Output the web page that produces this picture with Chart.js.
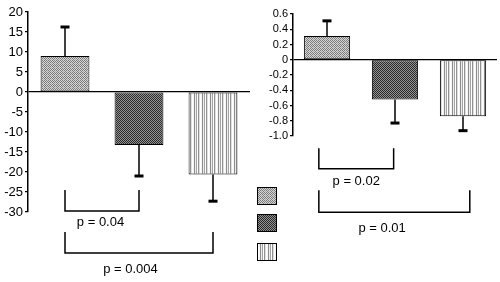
<!DOCTYPE html>
<html>
<head>
<meta charset="utf-8">
<script src="https://cdn.jsdelivr.net/npm/chart.js@4"></script>
<style>
  html, body { margin: 0; padding: 0; background: #fff; }
  #wrap { position: relative; width: 500px; height: 282px; overflow: hidden; }
  #wrap canvas { position: absolute; top: 0; }
  #leftChart { left: 0; }
  #rightChart { left: 250px; }
</style>
</head>
<body>
<div id="wrap">
  <canvas id="leftChart" width="252" height="282"></canvas>
  <canvas id="rightChart" width="250" height="282"></canvas>
</div>
<script>
// Three treatment groups (no axis labels shown in the figure)
const groups = ['Group 1', 'Group 2', 'Group 3'];

// Left panel: mean change and one-sided error
const leftMeans = [9, -13.25, -20.6];
const leftErrors = [7.25, 7.75, 6.7];
const leftTicks = { min: -30, max: 20, step: 5 };
const leftPValues = ['p = 0.04', 'p = 0.004'];

// Right panel
const rightMeans = [0.31, -0.52, -0.74];
const rightErrors = [0.2, 0.31, 0.19];
const rightTicks = { min: -1.0, max: 0.6, step: 0.2 };
const rightPValues = ['p = 0.02', 'p = 0.01'];

// Fill patterns that mimic the printed hatching
function makePattern(kind) {
    const c = document.createElement('canvas');
    const g = c.getContext('2d');
    if (kind === 'light') {
        c.width = 4; c.height = 4;
        g.fillStyle = '#d4d4d4'; g.fillRect(0, 0, 4, 4);
        g.fillStyle = '#7c7c7c';
        [[0,0],[2,0],[1,1],[3,1],[0,2],[2,2],[1,3]].forEach(([x, y]) => g.fillRect(x, y, 1, 1));
        g.fillStyle = '#a8a8a8'; g.fillRect(3, 3, 1, 1);
    } else if (kind === 'dark') {
        c.width = 2; c.height = 2;
        g.fillStyle = '#929292'; g.fillRect(0, 0, 2, 2);
        g.fillStyle = '#2a2a2a'; g.fillRect(0, 0, 1, 1); g.fillRect(1, 1, 1, 1);
    } else {
        c.width = 8; c.height = 1;
        ['#ffffff', '#f4f4f4', '#8c8c8c', '#ececec', '#a4a4a4', '#ffffff', '#909090', '#e0e0e0']
            .forEach((col, i) => { g.fillStyle = col; g.fillRect(i, 0, 1, 1); });
    }
    return g.createPattern(c, 'repeat');
}
const fills = [makePattern('light'), makePattern('dark'), makePattern('stripes')];

function catPx(scale, v) {
    const a = scale.getPixelForValue(0), b = scale.getPixelForValue(1);
    return a + (b - a) * v;
}

// Error bars, significance brackets and legend swatches
const overlay = {
    id: 'overlay',
    afterDatasetsDraw(chart, args, opts) {
        const { ctx, scales: { x, y } } = chart;
        const meta = chart.getDatasetMeta(0);
        const vals = chart.data.datasets[0].data;
        ctx.save();
        ctx.strokeStyle = '#000';
        ctx.fillStyle = '#000';

        meta.data.forEach((bar, i) => {
            const v = vals[i];
            const end = v + Math.sign(v) * opts.errors[i];
            const y0 = y.getPixelForValue(v), y1 = y.getPixelForValue(end);
            ctx.lineWidth = 1.5;
            ctx.beginPath(); ctx.moveTo(bar.x, y0); ctx.lineTo(bar.x, y1); ctx.stroke();
            ctx.fillRect(bar.x - 4.5, y1 - 1.5, 9, 3);
        });

        ctx.font = opts.font;
        ctx.textAlign = 'center';
        ctx.textBaseline = 'middle';
        opts.brackets.forEach((b, i) => {
            const xa = catPx(x, b.from), xb = catPx(x, b.to);
            const yt = y.getPixelForValue(b.top), yb = y.getPixelForValue(b.bottom);
            ctx.lineWidth = 1.5;
            ctx.beginPath();
            ctx.moveTo(xa, yt); ctx.lineTo(xa, yb); ctx.lineTo(xb, yb); ctx.lineTo(xb, yt);
            ctx.stroke();
            ctx.fillText(opts.labels[i], catPx(x, b.textAt), y.getPixelForValue(b.textY));
        });

        if (opts.legend) {
            const lx = chart.chartArea.left + opts.legend.dx;
            opts.legend.dy.forEach((dy, i) => {
                const ly = chart.chartArea.bottom + dy;
                ctx.fillStyle = fills[i];
                ctx.fillRect(lx, ly, 20, 18);
                ctx.lineWidth = 1;
                ctx.strokeRect(lx + 0.5, ly + 0.5, 19, 17);
            });
        }
        ctx.restore();
    }
};

function buildChart(id, means, errors, ticks, fontSize, axisWidth, padding, barPct, fmt, overlayOpts) {
    return new Chart(document.getElementById(id), {
        type: 'bar',
        data: {
            labels: groups,
            datasets: [{
                data: means,
                backgroundColor: fills,
                borderColor: '#000',
                borderWidth: 1,
                borderSkipped: false,
                barPercentage: barPct,
                categoryPercentage: 1
            }]
        },
        options: {
            responsive: false,
            animation: false,
            layout: { padding },
            plugins: {
                legend: { display: false },
                tooltip: { enabled: false },
                overlay: overlayOpts
            },
            scales: {
                x: { display: false },
                y: {
                    min: ticks.min,
                    max: ticks.max,
                    afterFit(axis) { axis.width = axisWidth; },
                    border: { display: true, color: '#000', width: 1.5 },
                    grid: {
                        color: c => Math.abs(c.tick.value) < 1e-9 ? '#000' : 'rgba(0,0,0,0)',
                        lineWidth: 1.2,
                        tickColor: '#000',
                        tickLength: 3,
                        drawOnChartArea: true
                    },
                    ticks: {
                        stepSize: ticks.step,
                        autoSkip: false,
                        padding: 2,
                        color: '#000',
                        font: { family: '"Liberation Sans", Arial, sans-serif', size: fontSize },
                        callback: fmt
                    }
                }
            }
        },
        plugins: [overlay]
    });
}

buildChart('leftChart', leftMeans, leftErrors, leftTicks, 13, 28,
    { left: 0, right: 2, top: 12, bottom: 70 }, 0.66,
    v => String(Math.round(v)),
    {
        errors: leftErrors,
        labels: leftPValues,
        font: '13px "Liberation Sans", Arial, sans-serif',
        brackets: [
            { from: 0, to: 1, top: -24.5, bottom: -29.75, textAt: 0.48, textY: -32.7 },
            { from: 0, to: 2, top: -35, bottom: -40.25, textAt: 0.885, textY: -44.25 }
        ]
    });

buildChart('rightChart', rightMeans, rightErrors, rightTicks, 11, 43,
    { left: 0, right: 3, top: 14, bottom: 146 }, 0.68,
    v => Math.abs(v) < 1e-9 ? '0' : v.toFixed(1),
    {
        errors: rightErrors,
        labels: rightPValues,
        font: '13px "Liberation Sans", Arial, sans-serif',
        brackets: [
            { from: -0.12, to: 0.98, top: -1.16, bottom: -1.43, textAt: 0.43, textY: -1.59 },
            { from: -0.12, to: 2.1, top: -1.71, bottom: -2.0, textAt: 0.81, textY: -2.21 }
        ],
        legend: { dx: -36, dy: [51, 78, 107] }
    });
</script>
</body>
</html>
